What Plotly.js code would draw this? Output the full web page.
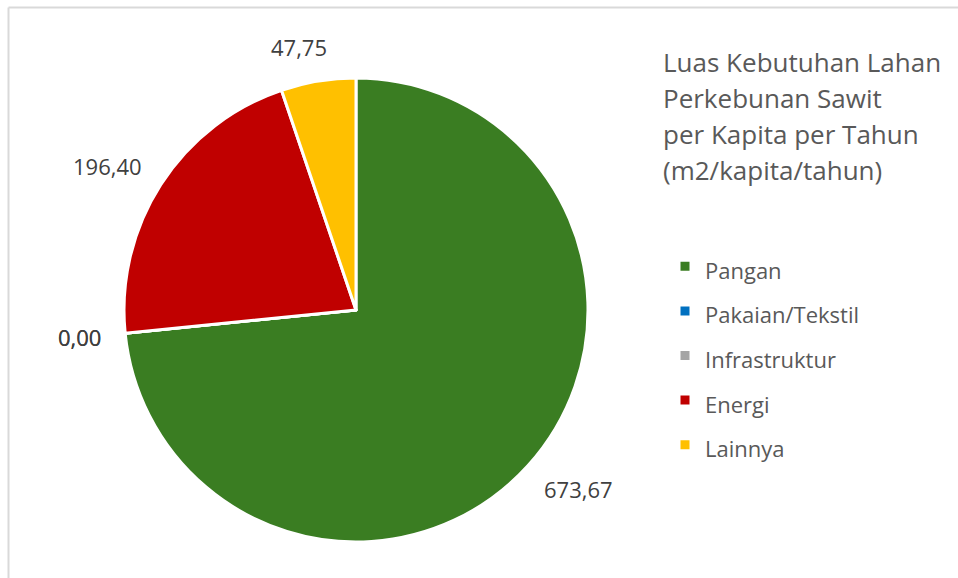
<!DOCTYPE html>
<html>
<head>
<meta charset="utf-8">
<script src="https://cdn.plot.ly/plotly-3.0.1.min.js"></script>
<style>
html,body{margin:0;padding:0;background:#fff;}
#chart{width:958px;height:578px;}
</style>
</head>
<body>
<div id="chart"></div>
<script>
// ---- data ----
const categories = ["Pangan", "Pakaian/Tekstil", "Infrastruktur", "Energi", "Lainnya"];
const values = [673.67, 0.00, 0.00, 196.40, 47.75];
const colors = ["#3A7D22", "#0070C0", "#A5A5A5", "#C00000", "#FFC000"];
const titleLines = ["Luas Kebutuhan Lahan", "Perkebunan Sawit", "per Kapita per Tahun", "(m2/kapita/tahun)"];

const W = 958, H = 578;
const FONT = "Open Sans, Noto Sans, sans-serif";
const fmt = v => v.toFixed(2).replace(".", ",");
const clamp = (v, a, b) => Math.max(a, Math.min(b, v));

// pie geometry (pixels)
const cx = 356, cy = 310, R = 232;
const domain = {x: [(cx - R) / W, (cx + R) / W], y: [1 - (cy + R) / H, 1 - (cy - R) / H]};

// data labels placed outside at the slice mid-angle
const total = values.reduce((a, b) => a + b, 0);
let cum = 0;
const annotations = [];
values.forEach((v, i) => {
  const mid = (cum + v / 2) / total * 2 * Math.PI;
  cum += v;
  const dx = Math.sin(mid), dy = -Math.cos(mid);
  const txt = fmt(v);
  const w = txt.length * 11, h = 22;
  const d = R + 24;
  const px = cx + dx * d, py = cy + dy * d;
  const lx = px + clamp(dx * 3.4, -1, 1) * w / 2;
  const ly = py + dy * h / 2;
  annotations.push({
    x: lx / W, y: 1 - ly / H,
    xref: "paper", yref: "paper", xanchor: "center", yanchor: "middle",
    text: txt, showarrow: false,
    font: {family: FONT, size: 22, color: "#404040"}
  });
});

// title lines
titleLines.forEach((t, i) => {
  annotations.push({
    x: 661 / W, y: 1 - (62 + i * 36) / H,
    xref: "paper", yref: "paper", xanchor: "left", yanchor: "middle",
    text: t, showarrow: false,
    font: {family: FONT, size: 26, color: "#595959"}
  });
});

const trace = {
  type: "pie",
  labels: categories.map(c => "<span style='font-size:22px'>" + c + "</span>"),
  values: values,
  sort: false,
  direction: "clockwise",
  rotation: 0,
  domain: domain,
  marker: {colors: colors, line: {color: "#ffffff", width: 3}},
  textinfo: "none",
  hoverinfo: "label+value"
};

const layout = {
  width: W, height: H,
  margin: {l: 0, r: 0, t: 0, b: 0},
  paper_bgcolor: "#ffffff",
  showlegend: true,
  legend: {
    x: 665 / W, y: 1 - 239 / H, xanchor: "left", yanchor: "top",
    font: {family: FONT, size: 32, color: "#595959"},
    itemclick: false
  },
  annotations: annotations,
  shapes: [
    {type: "line", xref: "paper", yref: "paper", x0: 8.5 / W, x1: 1, y0: 1 - 7.5 / H, y1: 1 - 7.5 / H, line: {color: "#d9d9d9", width: 2}},
    {type: "line", xref: "paper", yref: "paper", x0: 8.5 / W, x1: 8.5 / W, y0: 0, y1: 1 - 7.5 / H, line: {color: "#d9d9d9", width: 2}}
  ]
};

Plotly.newPlot("chart", [trace], layout, {displayModeBar: false, staticPlot: true});
</script>
</body>
</html>
